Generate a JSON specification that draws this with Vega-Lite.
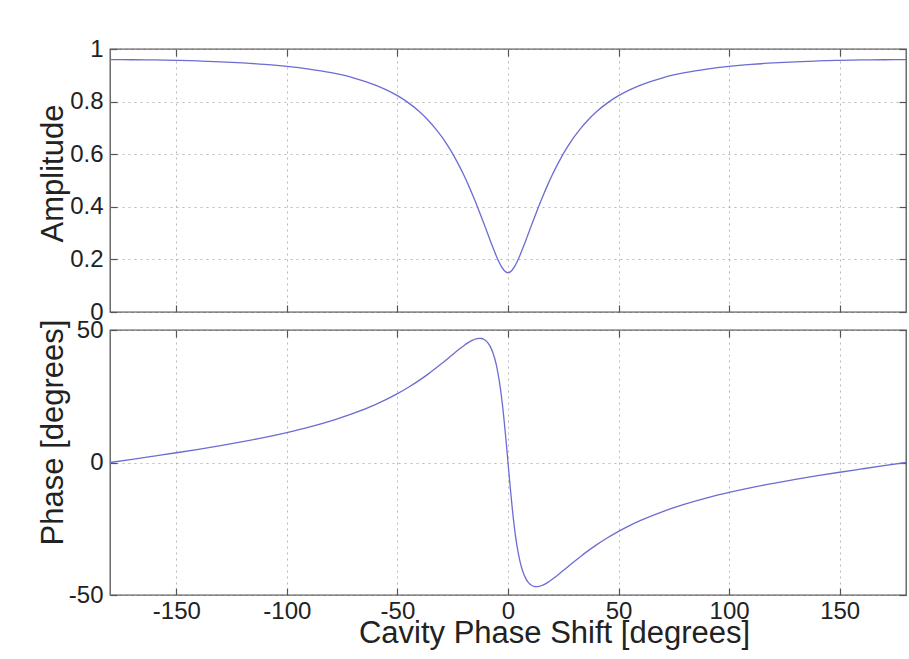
{
  "$schema": "https://vega.github.io/schema/vega-lite/v6.json",
  "background": "white",
  "padding": {"left": 36, "top": 36, "right": 4, "bottom": 4},
  "datasets": {
    "cavity": [
      {"phi": -180, "amp": 0.9595, "phase": 0},
      {"phi": -170, "amp": 0.9592, "phase": 1.20},
      {"phi": -160, "amp": 0.9583, "phase": 2.43},
      {"phi": -150, "amp": 0.9568, "phase": 3.68},
      {"phi": -140, "amp": 0.9545, "phase": 4.99},
      {"phi": -130, "amp": 0.9514, "phase": 6.38},
      {"phi": -120, "amp": 0.9471, "phase": 7.87},
      {"phi": -110, "amp": 0.9414, "phase": 9.50},
      {"phi": -100, "amp": 0.9339, "phase": 11.31},
      {"phi": -90, "amp": 0.9237, "phase": 13.35},
      {"phi": -80, "amp": 0.9098, "phase": 15.72},
      {"phi": -70, "amp": 0.8906, "phase": 18.50},
      {"phi": -60, "amp": 0.8630, "phase": 21.86},
      {"phi": -55, "amp": 0.8448, "phase": 23.80},
      {"phi": -50, "amp": 0.8225, "phase": 25.97},
      {"phi": -45, "amp": 0.7951, "phase": 28.39},
      {"phi": -40, "amp": 0.7612, "phase": 31.08},
      {"phi": -36, "amp": 0.7282, "phase": 33.44},
      {"phi": -33, "amp": 0.6993, "phase": 35.34},
      {"phi": -30, "amp": 0.6664, "phase": 37.32},
      {"phi": -28, "amp": 0.6419, "phase": 38.69},
      {"phi": -26, "amp": 0.6152, "phase": 40.07},
      {"phi": -24, "amp": 0.5862, "phase": 41.44},
      {"phi": -22, "amp": 0.5548, "phase": 42.79},
      {"phi": -20, "amp": 0.5208, "phase": 44.08},
      {"phi": -18, "amp": 0.4843, "phase": 45.23},
      {"phi": -16, "amp": 0.4453, "phase": 46.17},
      {"phi": -15, "amp": 0.4249, "phase": 46.51},
      {"phi": -14, "amp": 0.4039, "phase": 46.75},
      {"phi": -13, "amp": 0.3825, "phase": 46.86},
      {"phi": -12, "amp": 0.3606, "phase": 46.79},
      {"phi": -11, "amp": 0.3384, "phase": 46.51},
      {"phi": -10, "amp": 0.3160, "phase": 45.96},
      {"phi": -9, "amp": 0.2935, "phase": 45.06},
      {"phi": -8, "amp": 0.2711, "phase": 43.72},
      {"phi": -7, "amp": 0.2491, "phase": 41.83},
      {"phi": -6, "amp": 0.2277, "phase": 39.23},
      {"phi": -5, "amp": 0.2076, "phase": 35.73},
      {"phi": -4, "amp": 0.1891, "phase": 31.12},
      {"phi": -3, "amp": 0.1732, "phase": 25.21},
      {"phi": -2, "amp": 0.1607, "phase": 17.90},
      {"phi": -1, "amp": 0.1527, "phase": 9.34},
      {"phi": 0, "amp": 0.1499, "phase": 0},
      {"phi": 1, "amp": 0.1527, "phase": -9.34},
      {"phi": 2, "amp": 0.1607, "phase": -17.90},
      {"phi": 3, "amp": 0.1732, "phase": -25.21},
      {"phi": 4, "amp": 0.1891, "phase": -31.12},
      {"phi": 5, "amp": 0.2076, "phase": -35.73},
      {"phi": 6, "amp": 0.2277, "phase": -39.23},
      {"phi": 7, "amp": 0.2491, "phase": -41.83},
      {"phi": 8, "amp": 0.2711, "phase": -43.72},
      {"phi": 9, "amp": 0.2935, "phase": -45.06},
      {"phi": 10, "amp": 0.3160, "phase": -45.96},
      {"phi": 11, "amp": 0.3384, "phase": -46.51},
      {"phi": 12, "amp": 0.3606, "phase": -46.79},
      {"phi": 13, "amp": 0.3825, "phase": -46.86},
      {"phi": 14, "amp": 0.4039, "phase": -46.75},
      {"phi": 15, "amp": 0.4249, "phase": -46.51},
      {"phi": 16, "amp": 0.4453, "phase": -46.17},
      {"phi": 18, "amp": 0.4843, "phase": -45.23},
      {"phi": 20, "amp": 0.5208, "phase": -44.08},
      {"phi": 22, "amp": 0.5548, "phase": -42.79},
      {"phi": 24, "amp": 0.5862, "phase": -41.44},
      {"phi": 26, "amp": 0.6152, "phase": -40.07},
      {"phi": 28, "amp": 0.6419, "phase": -38.69},
      {"phi": 30, "amp": 0.6664, "phase": -37.32},
      {"phi": 33, "amp": 0.6993, "phase": -35.34},
      {"phi": 36, "amp": 0.7282, "phase": -33.44},
      {"phi": 40, "amp": 0.7612, "phase": -31.08},
      {"phi": 45, "amp": 0.7951, "phase": -28.39},
      {"phi": 50, "amp": 0.8225, "phase": -25.97},
      {"phi": 55, "amp": 0.8448, "phase": -23.80},
      {"phi": 60, "amp": 0.8630, "phase": -21.86},
      {"phi": 70, "amp": 0.8906, "phase": -18.50},
      {"phi": 80, "amp": 0.9098, "phase": -15.72},
      {"phi": 90, "amp": 0.9237, "phase": -13.35},
      {"phi": 100, "amp": 0.9339, "phase": -11.31},
      {"phi": 110, "amp": 0.9414, "phase": -9.50},
      {"phi": 120, "amp": 0.9471, "phase": -7.87},
      {"phi": 130, "amp": 0.9514, "phase": -6.38},
      {"phi": 140, "amp": 0.9545, "phase": -4.99},
      {"phi": 150, "amp": 0.9568, "phase": -3.68},
      {"phi": 160, "amp": 0.9583, "phase": -2.43},
      {"phi": 170, "amp": 0.9592, "phase": -1.20},
      {"phi": 180, "amp": 0.9595, "phase": 0}
    ]
  },
  "data": {"name": "cavity"},
  "spacing": 18,
  "bounds": "flush",
  "config": {
    "font": "Liberation Sans",
    "view": {"stroke": "#555555", "strokeWidth": 1.3},
    "axis": {
      "domain": false,
      "labelFont": "Liberation Sans",
      "labelFontSize": 24,
      "labelColor": "#222222",
      "labelFlush": false,
      "labelExpr": "'' + datum.value",
      "titleFont": "Liberation Sans",
      "titleFontSize": 31,
      "titleFontWeight": "normal",
      "titleColor": "#222222",
      "tickColor": "#555555",
      "tickWidth": 1.2,
      "tickSize": -7,
      "gridColor": "#a8a8a8",
      "gridDash": [2, 4],
      "gridWidth": 1,
      "gridOpacity": 0.8
    }
  },
  "vconcat": [
    {
      "width": 796,
      "height": 263,
      "layer": [
        {
          "mark": {"type": "line", "color": "#6c6cd2", "strokeWidth": 1.3, "interpolate": "monotone"},
          "encoding": {
            "x": {
              "field": "phi", "type": "quantitative",
              "scale": {"domain": [-180, 180], "nice": false, "zero": false},
              "axis": {"orient": "bottom", "values": [-150, -100, -50, 0, 50, 100, 150], "labels": false, "title": null, "grid": true}
            },
            "y": {
              "field": "amp", "type": "quantitative",
              "scale": {"domain": [0, 1], "nice": false, "zero": false},
              "axis": {
                "orient": "left", "values": [0, 0.2, 0.4, 0.6, 0.8, 1], "grid": true,
                "labelPadding": 14,
                "title": "Amplitude",
                "titleAngle": -90, "titleAlign": "center", "titleBaseline": "alphabetic",
                "titleX": -48, "titleY": 124
              }
            }
          }
        },
        {
          "mark": {"type": "line", "opacity": 0},
          "encoding": {
            "x": {
              "field": "phi", "type": "quantitative",
              "axis": {"orient": "top", "values": [-150, -100, -50, 0, 50, 100, 150], "labels": false, "title": null, "grid": false}
            },
            "y": {
              "field": "amp", "type": "quantitative",
              "axis": {"orient": "right", "values": [0, 0.2, 0.4, 0.6, 0.8, 1], "labels": false, "title": null, "grid": false}
            }
          }
        }
      ]
    },
    {
      "width": 796,
      "height": 265,
      "layer": [
        {
          "mark": {"type": "line", "color": "#6c6cd2", "strokeWidth": 1.3, "interpolate": "monotone"},
          "encoding": {
            "x": {
              "field": "phi", "type": "quantitative",
              "scale": {"domain": [-180, 180], "nice": false, "zero": false},
              "axis": {
                "orient": "bottom", "values": [-150, -100, -50, 0, 50, 100, 150], "grid": true,
                "labelPadding": 11,
                "title": "Cavity Phase Shift [degrees]",
                "titleAlign": "center", "titleBaseline": "alphabetic",
                "titleX": 444, "titleY": 47
              }
            },
            "y": {
              "field": "phase", "type": "quantitative",
              "scale": {"domain": [-50, 50], "nice": false, "zero": false},
              "axis": {
                "orient": "left", "values": [-50, 0, 50], "grid": true,
                "labelPadding": 14,
                "title": "Phase [degrees]",
                "titleAngle": -90, "titleAlign": "center", "titleBaseline": "alphabetic",
                "titleX": -48, "titleY": 102
              }
            }
          }
        },
        {
          "mark": {"type": "line", "opacity": 0},
          "encoding": {
            "x": {
              "field": "phi", "type": "quantitative",
              "axis": {"orient": "top", "values": [-150, -100, -50, 0, 50, 100, 150], "labels": false, "title": null, "grid": false}
            },
            "y": {
              "field": "phase", "type": "quantitative",
              "axis": {"orient": "right", "values": [-50, 0, 50], "labels": false, "title": null, "grid": false}
            }
          }
        }
      ]
    }
  ]
}
